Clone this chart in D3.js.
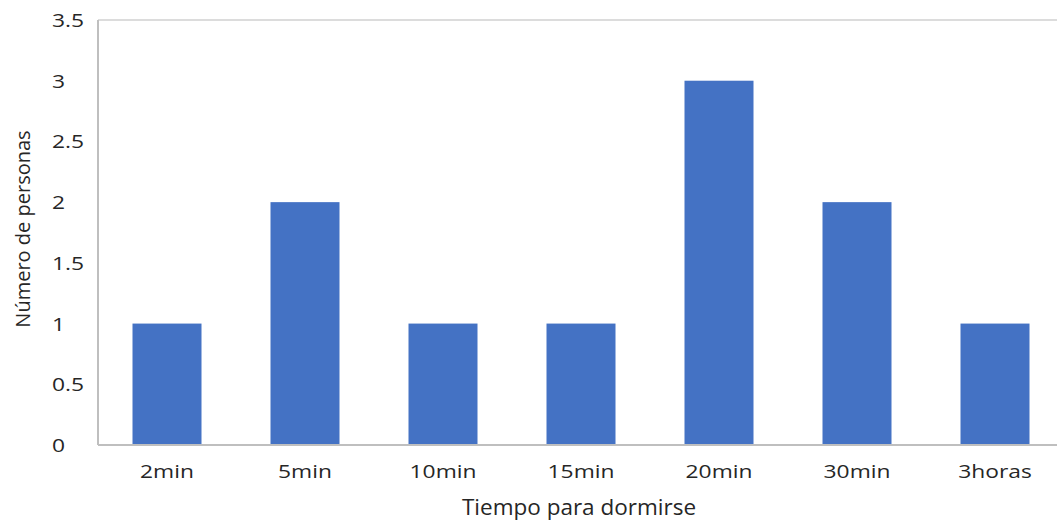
<!DOCTYPE html>
<html><head><meta charset="utf-8">
<script src="https://cdn.jsdelivr.net/npm/d3@7"></script>
<style>html,body{margin:0;padding:0;background:#fff;}</style>
</head><body>
<svg id="c" width="1057" height="523"></svg>
<script>
const categories = ["2min","5min","10min","15min","20min","30min","3horas"];
const values = [1,2,1,1,3,2,1];
const yTicks = [0,0.5,1,1.5,2,2.5,3,3.5];
const xTitle = "Tiempo para dormirse";
const yTitle = "Número de personas";

const svg = d3.select("#c");
const m = {left:98, top:20, right:1064, bottom:445};
const x = d3.scaleBand().domain(categories).range([m.left, m.right]).paddingInner(0.5).paddingOuter(0.25);
const y = d3.scaleLinear().domain([0,3.5]).range([m.bottom, m.top]);
const font = "'Open Sans', sans-serif";
const txt = "#262626";

// plot border lines
svg.append("line").attr("x1",m.left).attr("x2",1057).attr("y1",m.top).attr("y2",m.top).attr("stroke","#d0d0d0").attr("stroke-width",1.5);
svg.append("line").attr("x1",m.left).attr("x2",m.left).attr("y1",m.top).attr("y2",m.bottom).attr("stroke","#bfbfbf").attr("stroke-width",2);

svg.selectAll("rect.bar").data(values).join("rect").attr("class","bar")
  .attr("x",(d,i)=>x(categories[i])).attr("width",x.bandwidth())
  .attr("y",d=>y(d)).attr("height",d=>y(0)-y(d)).attr("fill","#4472C4");

svg.append("line").attr("x1",m.left).attr("x2",1057).attr("y1",m.bottom).attr("y2",m.bottom).attr("stroke","#bfbfbf").attr("stroke-width",2);

// y tick labels (left aligned)
svg.selectAll("text.yt").data(yTicks).join("text").attr("class","yt")
  .attr("transform",d=>`translate(52,${y(d)+7}) scale(1.2,1)`)
  .attr("font-family",font).attr("font-size",19).attr("fill",txt)
  .text(d=>d3.format("")(d));

// x tick labels
svg.selectAll("text.xt").data(categories).join("text").attr("class","xt")
  .attr("transform",d=>`translate(${x(d)+x.bandwidth()/2},478) scale(1.2,1)`)
  .attr("text-anchor","middle").attr("font-family",font).attr("font-size",19).attr("fill",txt)
  .text(d=>d);

svg.append("text").attr("x",579).attr("y",515).attr("text-anchor","middle")
  .attr("font-family",font).attr("font-size",22.5).attr("fill",txt).text(xTitle);

svg.append("text").attr("transform","translate(23,229) rotate(-90)").attr("dy","0.35em").attr("text-anchor","middle")
  .attr("font-family",font).attr("font-size",20).attr("fill",txt).text(yTitle);
</script>
</body></html>
